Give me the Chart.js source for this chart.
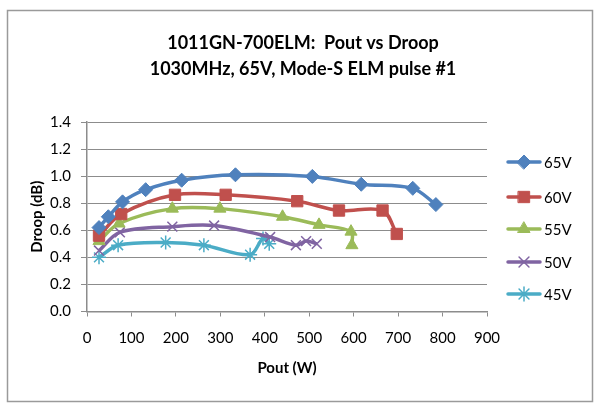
<!DOCTYPE html>
<html><head><meta charset="utf-8">
<script src="https://cdn.jsdelivr.net/npm/chart.js@4/dist/chart.umd.min.js"></script>
<style>html,body{margin:0;padding:0;background:#fff;}canvas{display:block;}</style>
</head><body>
<canvas id="c" width="596" height="404"></canvas>
<script>
// ---- data ----
const titleLines = ['1011GN-700ELM:  Pout vs Droop', '1030MHz, 65V, Mode-S ELM pulse #1'];
const xTitle = 'Pout (W)';
const yTitle = 'Droop (dB)';
const seriesNames = ['65V', '60V', '55V', '50V', '45V'];
const pout65 = [27, 48, 80, 132, 213, 334, 507, 617, 733, 785];
const droop65 = [0.62, 0.70, 0.81, 0.90, 0.97, 1.01, 0.998, 0.94, 0.91, 0.79];
const pout60 = [27, 77, 198, 312, 473, 567, 665, 697];
const droop60 = [0.56, 0.72, 0.862, 0.862, 0.815, 0.746, 0.746, 0.573];
const pout55 = [27, 72, 192, 299, 440, 522, 594, 596];
const droop55 = [0.52, 0.65, 0.76, 0.76, 0.70, 0.64, 0.59, 0.49];
const pout50 = [27, 74, 192, 286, 412, 470, 493, 517];
const droop50 = [0.45, 0.585, 0.627, 0.635, 0.55, 0.49, 0.52, 0.50];
const pout45 = [27, 70, 177, 263, 367, 396, 410];
const droop45 = [0.40, 0.49, 0.51, 0.49, 0.42, 0.54, 0.50];
const xTickMin = 0, xTickMax = 900, xTickStep = 100;
const yTickMin = 0, yTickMax = 1.4, yTickStep = 0.2;

// ---- styles ----
const colors = ['#4F81BD', '#C0504D', '#9BBB59', '#8064A2', '#4BACC6'];
const markers = ['rectRot', 'rect', 'triangle', 'crossRot', 'star'];
const radii = [7, 8, 7, 7, 7];
const xs = [pout65, pout60, pout55, pout50, pout45];
const ys = [droop65, droop60, droop55, droop50, droop45];

function hasFont(name) {
  const c = document.createElement('canvas').getContext('2d');
  const s = '1030MHz, 65V, Mode-S ELM';
  c.font = '20px monospace';
  const a = c.measureText(s).width;
  c.font = '20px "' + name + '", monospace';
  const b = c.measureText(s).width;
  return Math.abs(a - b) > 0.5;
}
const FONT = hasFont('Liberation Sans Narrow') ? '"Liberation Sans Narrow", Lato, sans-serif' : 'Lato, sans-serif';
const GRID = '#8c8c8c';

const datasets = seriesNames.map((n, i) => ({
  label: n,
  data: xs[i].map((x, j) => ({x: x, y: ys[i][j]})),
  borderColor: colors[i],
  backgroundColor: colors[i],
  borderWidth: 3.5,
  tension: 0.33,
  fill: false,
  pointStyle: markers[i],
  pointRadius: radii[i],
  pointBackgroundColor: colors[i],
  pointBorderColor: colors[i],
  pointBorderWidth: i >= 3 ? 1.5 : 1
}));

const frame = {
  id: 'frame',
  beforeDraw(chart) {
    const ctx = chart.ctx;
    ctx.save();
    ctx.fillStyle = '#fff';
    ctx.fillRect(0, 0, chart.width, chart.height);
    ctx.strokeStyle = '#9a9a9a';
    ctx.lineWidth = 1.5;
    ctx.strokeRect(7.5, 10.5, 585, 391);
    ctx.restore();
  }
};

const customLegend = {
  id: 'customLegend',
  afterDraw(chart) {
    const ctx = chart.ctx;
    const yPos = [162, 197, 229, 262, 294];
    chart.data.datasets.forEach((ds, i) => {
      const y = yPos[i];
      ctx.save();
      ctx.strokeStyle = ds.borderColor;
      ctx.lineWidth = 3.5;
      ctx.lineCap = 'round';
      ctx.beginPath();
      ctx.moveTo(508, y);
      ctx.lineTo(540, y);
      ctx.stroke();
      ctx.fillStyle = ds.pointBackgroundColor;
      ctx.strokeStyle = ds.pointBorderColor;
      ctx.lineWidth = ds.pointBorderWidth;
      Chart.helpers.drawPoint(ctx, {pointStyle: ds.pointStyle, radius: ds.pointRadius, rotation: 0, borderWidth: ds.pointBorderWidth}, 524, y);
      ctx.fillStyle = '#000';
      ctx.font = '15px ' + FONT;
      ctx.textAlign = 'left';
      ctx.textBaseline = 'middle';
      ctx.fillText(ds.label, 544, y + 1);
      ctx.restore();
    });
  }
};

new Chart(document.getElementById('c'), {
  type: 'line',
  data: {datasets: datasets},
  options: {
    responsive: false,
    animation: false,
    devicePixelRatio: 1,
    layout: {padding: {left: 10, right: 0, top: 0, bottom: 0}},
    plugins: {
      legend: {display: false},
      tooltip: {enabled: false},
      title: {
        display: true,
        text: titleLines,
        color: '#000',
        font: {family: FONT, size: 18, weight: 'bold', lineHeight: 26 / 18},
        padding: {top: 30, bottom: 40}
      }
    },
    scales: {
      x: {
        type: 'linear',
        min: xTickMin, max: xTickMax,
        ticks: {stepSize: xTickStep, color: '#000', font: {family: FONT, size: 15}, padding: 13, maxRotation: 0},
        grid: {drawOnChartArea: false, drawTicks: true, tickLength: 5, color: GRID, lineWidth: 1},
        border: {display: true, color: GRID, width: 1.5},
        title: {display: true, text: xTitle, color: '#000', font: {family: FONT, size: 15, weight: 'bold', lineHeight: 1.2}, padding: {top: 0, bottom: 27}},
        afterFit(s) { s.height = 92.5; }
      },
      y: {
        type: 'linear',
        min: yTickMin, max: yTickMax,
        ticks: {stepSize: yTickStep, color: '#000', font: {family: FONT, size: 15}, padding: 10, callback: v => Number(v).toFixed(1)},
        grid: {color: GRID, lineWidth: 1, tickLength: 6, drawTicks: true},
        border: {display: true, color: GRID, width: 1.5},
        title: {display: true, text: yTitle, color: '#000', font: {family: FONT, size: 15, weight: 'bold', lineHeight: 1.2}, padding: {top: 18, bottom: 0}},
        afterFit(s) { s.width = 77; }
      },
      yR: {
        type: 'linear',
        position: 'right',
        display: true,
        grid: {display: false, drawTicks: false},
        ticks: {display: false},
        border: {display: false},
        afterFit(s) { s.width = 109; }
      }
    }
  },
  plugins: [frame, customLegend]
});
</script>
</body></html>
